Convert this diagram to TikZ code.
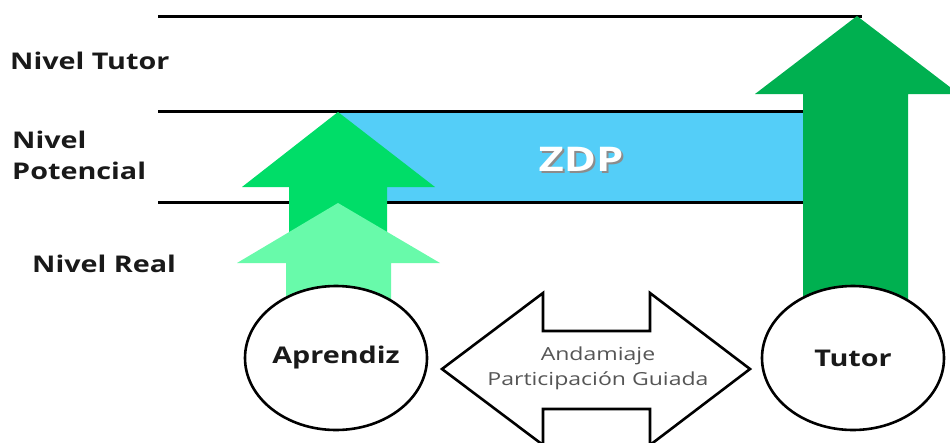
\documentclass[tikz,border=0pt]{standalone}
\usepackage{fontspec}
\setmainfont{Open Sans}
\usetikzlibrary{shapes.geometric}
\definecolor{zdpblue}{RGB}{84,206,248}
\definecolor{grnA}{RGB}{0,221,104}
\definecolor{grnB}{RGB}{104,250,170}
\definecolor{grnC}{RGB}{0,176,80}
\definecolor{txtgray}{RGB}{85,85,85}
\newcommand{\wide}[1]{\scalebox{1.25}[1]{#1}}
\newcommand{\wider}[1]{\scalebox{1.28}[1]{#1}}
\tikzset{
  level/.style={line width=3pt, black},
  lbl/.style={anchor=west, inner sep=0pt, font=\fontsize{23}{31}\selectfont\bfseries, text=black!90, align=left},
  actor/.style={ellipse, draw=black, line width=2.6pt, fill=white, minimum width=182pt, minimum height=144pt, inner sep=0pt, font=\fontsize{23}{27}\selectfont\bfseries, text=black!90},
  outline/.style={draw=black, line width=2.6pt, fill=white, line join=miter},
}
\begin{document}
\begin{tikzpicture}[x=1pt,y=-1pt]
\useasboundingbox (0,0) rectangle (950,442);
% ZDP band
\fill[zdpblue] (340,112) rectangle (803,202);
% level lines
\coordinate (t1) at (158,16); \coordinate (t2) at (862,16);
\coordinate (p1) at (158,111); \coordinate (p2) at (805,111);
\coordinate (r1) at (158,202); \coordinate (r2) at (805,202);
\draw[level] (t1) -- (t2);
\draw[level] (p1) -- (p2);
\draw[level] (r1) -- (r2);
% ZDP text with drop shadow
\node (zdp) at (581,160) {\fontsize{34}{40}\selectfont\bfseries\rlap{\raisebox{-2pt}{\hspace{2pt}\color{black!45}\wider{ZDP}}}\color{white}\wider{ZDP}};
% arrows
\fill[grnA] (338,112) -- (435,187) -- (387,187) -- (387,300) -- (289,300) -- (289,187) -- (242,187) -- cycle;
\fill[grnB] (338,203) -- (440,263) -- (391,263) -- (391,300) -- (286,300) -- (286,263) -- (237,263) -- cycle;
\fill[grnC] (857,16) -- (959,94) -- (908,94) -- (908,300) -- (803,300) -- (803,94) -- (755,94) -- cycle;
% actors
\node[actor] (apr) at (336,358) {\wide{Aprendiz}};
\node[actor] (tut) at (853,358) {\wide{Tutor}};
% double arrow
\draw[outline] (442,369) -- (543,293) -- (543,331) -- (650,331) -- (650,293) -- (750,369) -- (650,445) -- (650,409) -- (543,409) -- (543,445) -- cycle;
\node[align=center, text=txtgray, font=\fontsize{18}{25}\selectfont] (and) at (598,368) {\wider{Andamiaje}\\\wider{Participación Guiada}};
% level labels
\node[lbl] (lt) at (10,61) {\wide{Nivel Tutor}};
\node[lbl] (lp) at (12,155) {\wide{Nivel}\\\wide{Potencial}};
\node[lbl] (lr) at (32,264) {\wide{Nivel Real}};
\end{tikzpicture}
\end{document}
